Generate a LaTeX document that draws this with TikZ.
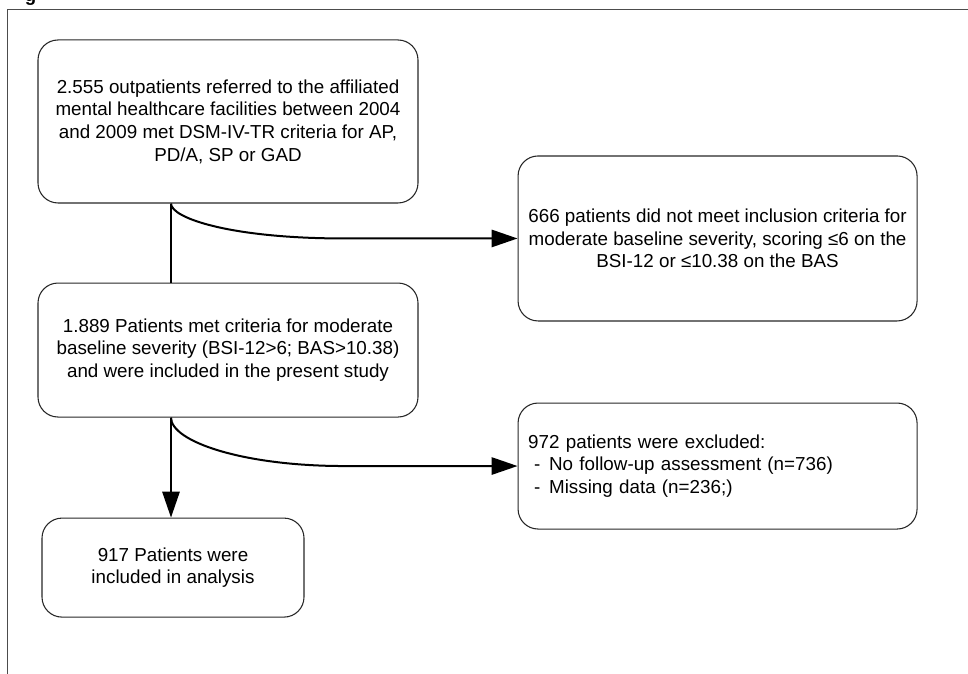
\documentclass[tikz,border=0pt]{standalone}
\usepackage{fontspec}
\setmainfont{Liberation Sans}
\usepackage{tikz}
\usetikzlibrary{positioning, arrows.meta}
\tikzstyle{box} = [rectangle, rounded corners=15pt, draw=black!85, line width=0.8pt, font=\fontsize{14.1pt}{17pt}\selectfont, align=center, inner sep=0pt]
\tikzstyle{boxlist} = [box, align=left, text width=284pt]
\tikzstyle{arrow} = [line width=1.5pt, -{Triangle[length=19.5pt, width=13pt]}]
\tikzstyle{line} = [line width=1.5pt]
\tikzstyle{frame} = [draw=black!70, line width=1.2pt]

\begin{document}
\begin{tikzpicture}
\useasboundingbox (0,0) rectangle (726pt,-505.5pt);
\node (figlabel) [anchor=base west, inner sep=0pt, font=\fontsize{14pt}{17pt}\selectfont\bfseries] at (18.5pt,-1pt) {g};
\coordinate (framebl) at (5.6pt,-520pt);
\coordinate (frametl) at (5.6pt,-7.1pt);
\coordinate (frametr) at (740pt,-7.1pt);
\draw [frame] (framebl) -- (frametl) -- (frametr);

\node (box1) [box, minimum width=285pt, minimum height=122.25pt] at (171pt,-91.1pt) {2.555 outpatients referred to the affiliated\\mental healthcare facilities between 2004\\and 2009 met DSM-IV-TR criteria for AP,\\PD/A, SP or GAD};
\node (box2) [box, minimum width=285pt, minimum height=100.5pt, below=59.25pt of box1] {1.889 Patients met criteria for moderate\\baseline severity (BSI-12>6; BAS>10.38)\\and were included in the present study};
\node (box3) [box, minimum width=299.25pt, minimum height=123.75pt, right=74.25pt of box1, yshift=-87.75pt] {666 patients did not meet inclusion criteria for\\moderate baseline severity, scoring ≤6 on the\\BSI-12 or ≤10.38 on the BAS};
\node (box5) [boxlist, minimum width=299.25pt, minimum height=94.5pt, below=60.75pt of box3] {972 patients were excluded:\\\hspace{4.5pt}-\hspace{6.5pt}No follow-up assessment (n=736)\\\hspace{4.5pt}-\hspace{6.5pt}Missing data (n=236;)};
\node (box4) [box, minimum width=196.5pt, minimum height=74.25pt, below=75pt of box2, xshift=-41.25pt] {917 Patients were\\included in analysis};

\coordinate (split1) at ([xshift=-42.75pt]box1.south);
\coordinate (split2) at ([xshift=-42.75pt]box2.south);

\draw [line] (split1) -- (split1 |- box2.north);
\draw [arrow] (split1) .. controls +(0,-11pt) and +(-85pt,0) .. ([xshift=-130pt]box3.west) -- (box3.west);
\draw [arrow] (split2) -- (split2 |- box4.north);
\draw [arrow] (split2) .. controls +(0,-18pt) and +(-76pt,0) .. ([xshift=-130pt]box5.west) -- (box5.west);

\end{tikzpicture}
\end{document}
